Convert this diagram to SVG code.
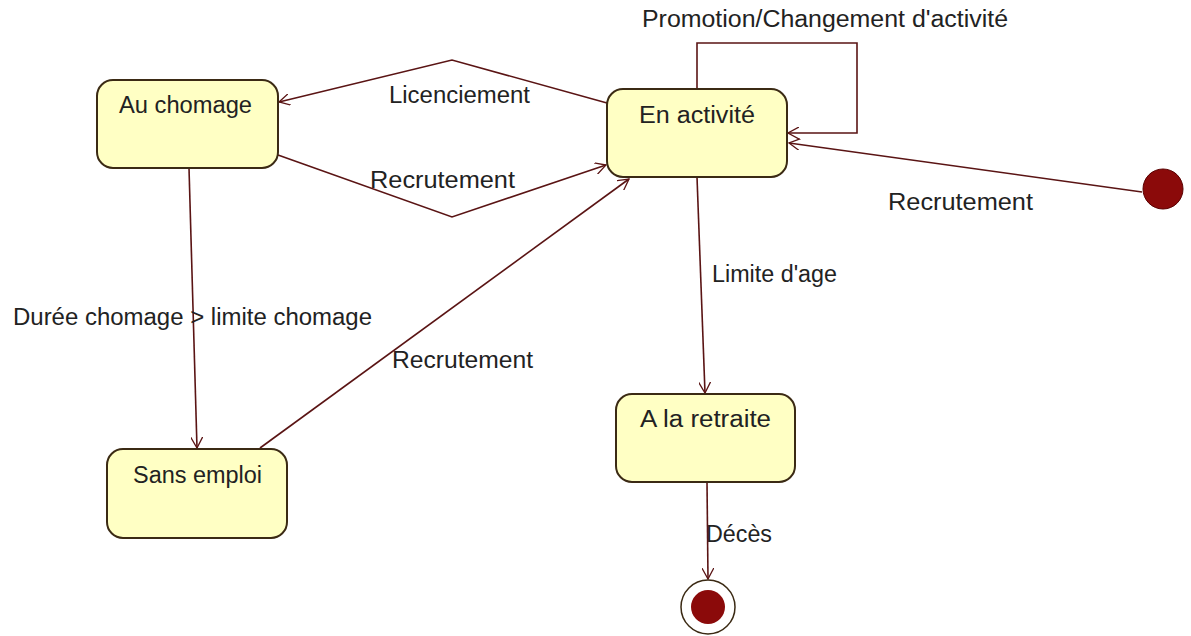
<svg xmlns="http://www.w3.org/2000/svg" width="1191" height="636" viewBox="0 0 1191 636">
<defs>
<marker id="arr" viewBox="0 0 12 12" refX="11" refY="6" markerWidth="12" markerHeight="12" markerUnits="userSpaceOnUse" orient="auto">
<path d="M0,0 L11,6 L0,12" fill="none" stroke="#5a1414" stroke-width="1.3"/>
</marker>
<style>
.st{fill:#ffffc4;stroke:#3b2a14;stroke-width:2}
.t{font-family:"Liberation Sans",Arial,sans-serif;font-size:23px;fill:#222}
.c{fill:none;stroke:#5a1414;stroke-width:1.6;marker-end:url(#arr)}
</style>
</defs>
<rect width="1191" height="636" fill="#fff"/>
<g id="connectors">
<polyline class="c" points="607,103 452,60 279,102"/>
<polyline class="c" points="278,155 452,217 606,165"/>
<polyline class="c" points="697,89 697,43 857,43 857,133 788,133"/>
<line class="c" x1="1142" y1="192" x2="789" y2="143"/>
<line class="c" x1="189" y1="168" x2="197" y2="448"/>
<line class="c" x1="260" y1="448" x2="629" y2="179"/>
<line class="c" x1="697" y1="177" x2="705" y2="393"/>
<line class="c" x1="707" y1="482" x2="708" y2="579"/>
</g>
<g id="labels">
<text class="t" x="389" y="103" textLength="141" lengthAdjust="spacingAndGlyphs">Licenciement</text>
<text class="t" x="370" y="188" textLength="145" lengthAdjust="spacingAndGlyphs">Recrutement</text>
<text class="t" x="642" y="27" textLength="366" lengthAdjust="spacingAndGlyphs">Promotion/Changement d'activité</text>
<text class="t" x="888" y="210" textLength="145" lengthAdjust="spacingAndGlyphs">Recrutement</text>
<text class="t" x="13" y="325" textLength="359" lengthAdjust="spacingAndGlyphs">Durée chomage &gt; limite chomage</text>
<text class="t" x="392" y="368" textLength="141" lengthAdjust="spacingAndGlyphs">Recrutement</text>
<text class="t" x="712" y="282" textLength="125" lengthAdjust="spacingAndGlyphs">Limite d'age</text>
<text class="t" x="706" y="542" textLength="66" lengthAdjust="spacingAndGlyphs">Décès</text>
</g>
<g id="au-chomage">
<rect class="st" x="97" y="80" width="181" height="88" rx="16"/>
<text class="t" x="119" y="113" textLength="133" lengthAdjust="spacingAndGlyphs">Au chomage</text>
</g>
<g id="en-activite">
<rect class="st" x="607" y="89" width="180" height="88" rx="16"/>
<text class="t" x="639" y="123" textLength="116" lengthAdjust="spacingAndGlyphs">En activité</text>
</g>
<g id="sans-emploi">
<rect class="st" x="107" y="449" width="180" height="89" rx="16"/>
<text class="t" x="133" y="483" textLength="129" lengthAdjust="spacingAndGlyphs">Sans emploi</text>
</g>
<g id="a-la-retraite">
<rect class="st" x="616" y="394" width="179" height="88" rx="16"/>
<text class="t" x="640" y="427" textLength="131" lengthAdjust="spacingAndGlyphs">A la retraite</text>
</g>
<g id="initial">
<circle cx="1163" cy="189" r="20" fill="#8b0a0a" stroke="#5a0000" stroke-width="1"/>
</g>
<g id="final">
<circle cx="708" cy="607" r="27" fill="#fff" stroke="#3b2a14" stroke-width="1.5"/>
<circle cx="708" cy="607" r="17" fill="#8b0a0a"/>
</g>
</svg>
